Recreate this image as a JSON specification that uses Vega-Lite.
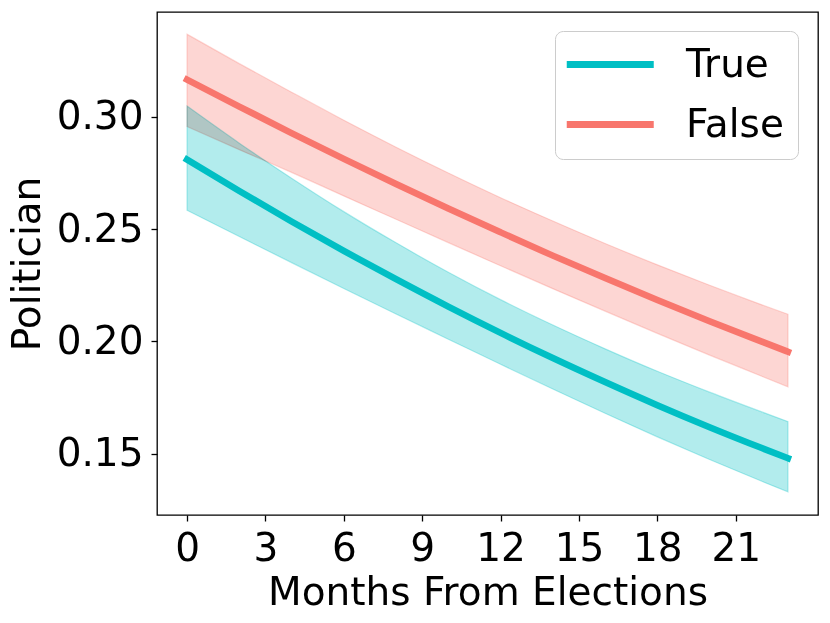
{
  "$schema": "https://vega.github.io/schema/vega-lite/v6.json",
  "autosize": {"type": "none"},
  "padding": {"left": 157, "top": 12, "right": 12, "bottom": 108},
  "width": 661,
  "height": 503,
  "background": "white",
  "data": {
    "values": [
      {"month": 0, "group": "True", "p": 0.2810, "lo": 0.2584, "hi": 0.3048},
      {"month": 2, "group": "True", "p": 0.2670, "lo": 0.2467, "hi": 0.2883},
      {"month": 4, "group": "True", "p": 0.2534, "lo": 0.2351, "hi": 0.2727},
      {"month": 6, "group": "True", "p": 0.2403, "lo": 0.2236, "hi": 0.2578},
      {"month": 8, "group": "True", "p": 0.2277, "lo": 0.2122, "hi": 0.2439},
      {"month": 10, "group": "True", "p": 0.2155, "lo": 0.2010, "hi": 0.2308},
      {"month": 12, "group": "True", "p": 0.2038, "lo": 0.1898, "hi": 0.2186},
      {"month": 14, "group": "True", "p": 0.1926, "lo": 0.1788, "hi": 0.2073},
      {"month": 16, "group": "True", "p": 0.1819, "lo": 0.1680, "hi": 0.1967},
      {"month": 18, "group": "True", "p": 0.1716, "lo": 0.1575, "hi": 0.1867},
      {"month": 20, "group": "True", "p": 0.1618, "lo": 0.1474, "hi": 0.1774},
      {"month": 22, "group": "True", "p": 0.1525, "lo": 0.1377, "hi": 0.1686},
      {"month": 23, "group": "True", "p": 0.1480, "lo": 0.1330, "hi": 0.1643},
      {"month": 0, "group": "False", "p": 0.3166, "lo": 0.2957, "hi": 0.3368},
      {"month": 2, "group": "False", "p": 0.3046, "lo": 0.2854, "hi": 0.3237},
      {"month": 4, "group": "False", "p": 0.2928, "lo": 0.2753, "hi": 0.3110},
      {"month": 6, "group": "False", "p": 0.2813, "lo": 0.2648, "hi": 0.2985},
      {"month": 8, "group": "False", "p": 0.2701, "lo": 0.2544, "hi": 0.2865},
      {"month": 10, "group": "False", "p": 0.2592, "lo": 0.2440, "hi": 0.2750},
      {"month": 12, "group": "False", "p": 0.2486, "lo": 0.2337, "hi": 0.2640},
      {"month": 14, "group": "False", "p": 0.2382, "lo": 0.2235, "hi": 0.2536},
      {"month": 16, "group": "False", "p": 0.2282, "lo": 0.2135, "hi": 0.2436},
      {"month": 18, "group": "False", "p": 0.2185, "lo": 0.2036, "hi": 0.2341},
      {"month": 20, "group": "False", "p": 0.2090, "lo": 0.1939, "hi": 0.2250},
      {"month": 22, "group": "False", "p": 0.1999, "lo": 0.1845, "hi": 0.2163},
      {"month": 23, "group": "False", "p": 0.1954, "lo": 0.1798, "hi": 0.2121}
    ]
  },
  "layer": [
    {
      "mark": {"type": "area", "interpolate": "monotone", "fillOpacity": 0.3, "strokeOpacity": 0.3, "strokeWidth": 1.2, "blend": "multiply"},
      "encoding": {
        "x": {"field": "month", "type": "quantitative", "scale": {"domain": [-1.15, 24.15], "nice": false, "zero": false},
              "axis": {"values": [0, 3, 6, 9, 12, 15, 18, 21], "title": "Months From Elections"}},
        "y": {"field": "lo", "type": "quantitative", "scale": {"domain": [0.1227, 0.3467], "nice": false, "zero": false},
              "axis": {"values": [0.15, 0.2, 0.25, 0.3], "format": ".2f", "title": "Politician"}},
        "y2": {"field": "hi"},
        "fill": {"field": "group", "type": "nominal", "scale": {"domain": ["False", "True"], "range": ["#F8766D", "#00BFC4"]}, "legend": null},
        "stroke": {"field": "group", "type": "nominal", "scale": {"domain": ["False", "True"], "range": ["#F8766D", "#00BFC4"]}, "legend": null}
      }
    },
    {
      "mark": {"type": "line", "interpolate": "monotone", "strokeWidth": 6.5, "strokeCap": "square"},
      "encoding": {
        "x": {"field": "month", "type": "quantitative"},
        "y": {"field": "p", "type": "quantitative"},
        "color": {"field": "group", "type": "nominal", "sort": ["True", "False"],
                  "scale": {"domain": ["True", "False"], "range": ["#00BFC4", "#F8766D"]},
                  "legend": {"title": null, "orient": "none", "legendX": 398, "legendY": 19}}
      }
    }
  ],
  "config": {
    "font": "DejaVu Sans",
    "view": {"stroke": "#000000", "strokeWidth": 1.3},
    "axis": {
      "domain": false, "grid": false,
      "labelFont": "DejaVu Sans", "titleFont": "DejaVu Sans",
      "labelFontSize": 39, "titleFontSize": 39, "titleFontWeight": "normal",
      "labelColor": "#000000", "titleColor": "#000000",
      "tickColor": "#000000", "tickWidth": 1.3, "tickSize": 6, "labelPadding": 8
    },
    "axisX": {"titlePadding": 5},
    "axisY": {"titlePadding": 9},
    "legend": {
      "fillColor": "rgba(255,255,255,0.8)", "strokeColor": "#cccccc", "cornerRadius": 8,
      "padding": 14, "labelFont": "DejaVu Sans", "labelFontSize": 39, "labelColor": "#000000",
      "symbolType": "M-2,0H6", "symbolSize": 473, "symbolStrokeWidth": 7, "labelOffset": 78,
      "rowPadding": 20, "labelLimit": 300
    }
  }
}
